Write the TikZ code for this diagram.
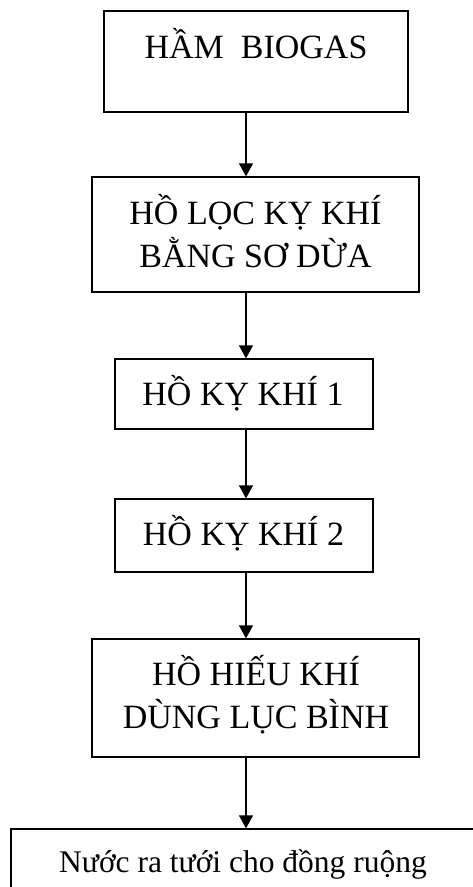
\documentclass[tikz,border=0pt]{standalone}
\usepackage{fontspec}
\setmainfont{Liberation Serif}
\usetikzlibrary{arrows.meta}
\begin{document}
\begin{tikzpicture}[x=1pt,y=-1pt,
  stage/.style={draw=black, line width=1.3pt, rectangle, inner sep=0pt},
  caption/.style={font=\fontsize{34}{43}\selectfont, align=center, anchor=base, inner sep=0pt},
  smallcaption/.style={caption, font=\fontsize{31.5}{38}\selectfont},
  flow/.style={line width=1.3pt, -{Triangle[length=13pt,width=14pt]}}]
\clip (0,0) rectangle (473,887);
\fill[white] (0,0) rectangle (473,887);

% treatment stages, top to bottom
\node[stage, minimum width=304pt, minimum height=101pt] (b1) at (256,61.5) {};
\node[stage, minimum width=327pt, minimum height=115pt] (b2) at (255.5,234.5) {};
\node[stage, minimum width=258pt, minimum height=70pt]  (b3) at (244,394) {};
\node[stage, minimum width=258pt, minimum height=73pt]  (b4) at (244,535.5) {};
\node[stage, minimum width=327pt, minimum height=118pt] (b5) at (255.5,698) {};
\node[stage, minimum width=465pt, minimum height=72pt]  (b6) at (243.5,865) {};

% stage names (base anchor sits on the last line)
\node[caption] (t1) at (256,58) {HẦM\ \ BIOGAS};
\node[caption] (t2) at (255.5,267) {HỒ LỌC KỴ KHÍ\\BẰNG SƠ DỪA};
\node[caption] (t3) at (243,405) {HỒ KỴ KHÍ 1};
\node[caption] (t4) at (243.5,545) {HỒ KỴ KHÍ 2};
\node[caption] (t5) at (256,728) {HỒ HIẾU KHÍ\\DÙNG LỤC BÌNH};
\node[smallcaption] (t6) at (243,872) {Nước ra tưới cho đồng ruộng};

% flow line
\coordinate (ax) at (246,0);
\draw[flow] (b1.south -| ax) -- (b2.north -| ax);
\draw[flow] (b2.south -| ax) -- (b3.north -| ax);
\draw[flow] (b3.south -| ax) -- (b4.north -| ax);
\draw[flow] (b4.south -| ax) -- (b5.north -| ax);
\draw[flow] (b5.south -| ax) -- (b6.north -| ax);
\end{tikzpicture}
\end{document}
